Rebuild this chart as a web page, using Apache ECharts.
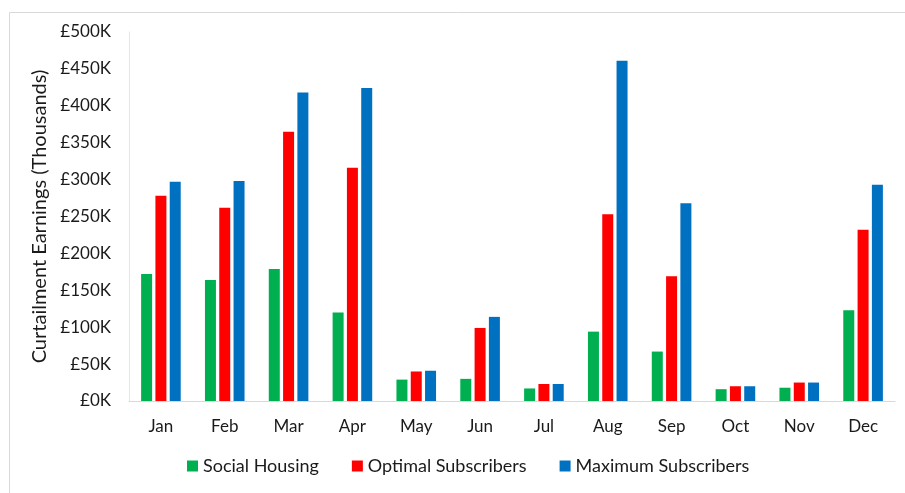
<!DOCTYPE html>
<html>
<head>
<meta charset="utf-8">
<script src="https://cdn.jsdelivr.net/npm/echarts@6/dist/echarts.min.js"></script>
<style>
html,body{margin:0;padding:0;background:#fff;}
#chart{width:905px;height:493px;}
</style>
</head>
<body>
<div id="chart"></div>
<script>
const months = ['Jan','Feb','Mar','Apr','May','Jun','Jul','Aug','Sep','Oct','Nov','Dec'];
const socialHousing = [172, 164, 179, 120, 29, 30, 17, 94, 67, 16, 18, 123];
const optimalSubscribers = [278, 262, 365, 316, 40, 99, 23, 253, 169, 20, 25, 232];
const maximumSubscribers = [297, 298, 418, 424, 41, 114, 23, 461, 268, 20, 25, 293];
const seriesNames = ['Social Housing','Optimal Subscribers','Maximum Subscribers'];
const seriesColors = ['#00B050','#FF0000','#0070C0'];

const FONT = 'Lato';
const TXT = '#1a1a1a';
const chart = echarts.init(document.getElementById('chart'), null, {renderer:'canvas'});
const dataSets = [socialHousing, optimalSubscribers, maximumSubscribers];
chart.setOption({
  animation: false,
  textStyle: {fontFamily: FONT},
  graphic: [{
    type: 'rect', left: 7, top: 10,
    shape: {width: 1000, height: 1000},
    style: {fill: 'none', stroke: '#d9d9d9', lineWidth: 1}
  }],
  legend: {
    bottom: 13, left: 182,
    itemWidth: 11, itemHeight: 11, itemGap: 33,
    icon: 'rect',
    textStyle: {fontFamily: FONT, fontSize: 18, color: TXT},
    data: seriesNames
  },
  grid: {left: 129, right: 10, top: 32, bottom: 92, containLabel: false},
  xAxis: {
    type: 'category', data: months,
    axisTick: {show: false},
    axisLine: {lineStyle: {color: '#d9d9d9', width: 1}},
    axisLabel: {fontFamily: FONT, fontSize: 17, color: TXT, margin: 17}
  },
  yAxis: {
    type: 'value', min: 0, max: 500, interval: 50,
    name: 'Curtailment Earnings (Thousands)',
    nameLocation: 'middle', nameGap: 78,
    nameTextStyle: {fontFamily: FONT, fontSize: 20, color: TXT},
    axisLine: {show: true, lineStyle: {color: '#e6e6e6', width: 1}},
    axisTick: {show: false},
    splitLine: {show: false},
    axisLabel: {fontFamily: FONT, fontSize: 17, color: TXT, margin: 18,
      formatter: v => '£' + v + 'K'}
  },
  series: seriesNames.map((n, i) => ({
    name: n, type: 'bar', data: dataSets[i],
    barWidth: 11, barGap: '30%',
    itemStyle: {color: seriesColors[i]}
  }))
});
</script>
</body>
</html>
